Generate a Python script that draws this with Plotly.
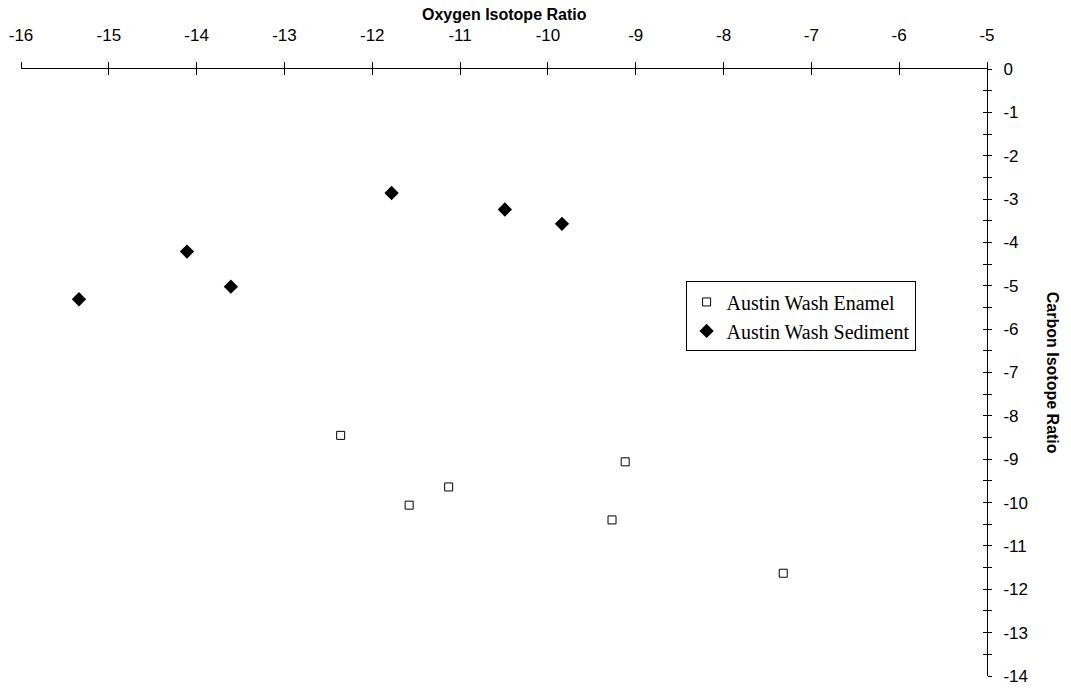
import plotly.graph_objects as go

# Data
enamel_oxygen = [-12.36, -11.58, -11.13, -9.27, -9.12, -7.32]
enamel_carbon = [-8.45, -10.06, -9.64, -10.40, -9.06, -11.63]

sediment_oxygen = [-15.34, -14.11, -13.61, -11.78, -10.49, -9.84]
sediment_carbon = [-5.31, -4.21, -5.02, -2.86, -3.24, -3.57]

x_tickvals = [-16, -15, -14, -13, -12, -11, -10, -9, -8, -7, -6, -5]
x_ticktext = ["-16", "-15", "-14", "-13", "-12", "-11", "-10", "-9", "-8", "-7", "-6", "-5"]
y_tickvals = [0, -1, -2, -3, -4, -5, -6, -7, -8, -9, -10, -11, -12, -13, -14]
y_ticktext = ["0", "-1", "-2", "-3", "-4", "-5", "-6", "-7", "-8", "-9", "-10", "-11", "-12", "-13", "-14"]

x_range = [-16, -5]
y_range = [-14, 0]
x_title = "Oxygen Isotope Ratio"
y_title = "Carbon Isotope Ratio"

tick_font = dict(family="Liberation Sans, Arial, sans-serif", size=17, color="black")

fig = go.Figure()
fig.add_trace(go.Scatter(
    x=enamel_oxygen, y=enamel_carbon, mode="markers", name="Austin Wash Enamel",
    marker=dict(symbol="square-open", size=8, color="black", line=dict(width=1, color="black")),
    legendgroup="a",
))
fig.add_trace(go.Scatter(
    x=sediment_oxygen, y=sediment_carbon, mode="markers", name="Austin Wash Sediment",
    marker=dict(symbol="diamond", size=11, color="black", line=dict(width=0)),
    legendgroup="b",
))
# empty trace so the overlaid axes (inner half of the crossing ticks) exist
fig.add_trace(go.Scatter(x=[], y=[], xaxis="x2", yaxis="y2", showlegend=False, hoverinfo="skip"))

fig.update_layout(
    width=1071, height=688,
    margin=dict(l=21, r=84, t=69, b=12),
    paper_bgcolor="white", plot_bgcolor="white",
    showlegend=True,
    legend=dict(
        x=0.688, y=0.65, xanchor="left", yanchor="top",
        bgcolor="white", bordercolor="black", borderwidth=1,
        font=dict(family="Liberation Serif, Times New Roman, serif", size=20, color="black"),
        tracegroupgap=0, traceorder="grouped", itemwidth=30,
    ),
    xaxis=dict(
        range=x_range, side="top", showgrid=False, zeroline=False,
        showline=True, linecolor="black", linewidth=1,
        ticks="outside", ticklen=6, tickcolor="black", tickwidth=1,
        tickmode="array", tickvals=x_tickvals, ticktext=x_ticktext,
        tickfont=tick_font, ticklabelstandoff=14, ticklabeloverflow="allow",
        anchor="y", automargin=False,
    ),
    xaxis2=dict(
        range=x_range, side="top", overlaying="x", showgrid=False, zeroline=False,
        showline=False, ticks="inside", ticklen=6, tickcolor="black", tickwidth=1,
        tickmode="array", tickvals=x_tickvals, showticklabels=False, anchor="y",
        automargin=False,
    ),
    yaxis=dict(
        range=y_range, side="right", showgrid=False, zeroline=False,
        showline=True, linecolor="black", linewidth=1,
        ticks="outside", ticklen=4, tickcolor="black", tickwidth=1,
        tickmode="array", tickvals=y_tickvals, ticktext=y_ticktext,
        tickfont=tick_font, ticklabelstandoff=8, ticklabeloverflow="allow",
        minor=dict(dtick=0.5, tick0=0, ticks="outside", ticklen=4, tickcolor="black", showgrid=False),
        anchor="x", automargin=False,
    ),
    yaxis2=dict(
        range=y_range, side="right", overlaying="y", showgrid=False, zeroline=False,
        showline=False, ticks="inside", ticklen=4, tickcolor="black", tickwidth=1,
        tickmode="array", tickvals=y_tickvals, showticklabels=False,
        minor=dict(dtick=0.5, tick0=0, ticks="inside", ticklen=4, tickcolor="black", showgrid=False),
        anchor="x", automargin=False,
    ),
    annotations=[
        dict(text=f"<b>{x_title}</b>", xref="paper", yref="paper", x=0.5, y=1,
             yshift=55, xanchor="center", yanchor="middle", showarrow=False,
             font=dict(family="Liberation Sans, Arial, sans-serif", size=16, color="black")),
        dict(text=f"<b>{y_title}</b>", xref="paper", yref="paper", x=1.068, y=0.5,
             xanchor="center", yanchor="middle", textangle=90, showarrow=False,
             font=dict(family="Liberation Sans, Arial, sans-serif", size=16, color="black")),
    ],
)

fig.write_html("out.html")
